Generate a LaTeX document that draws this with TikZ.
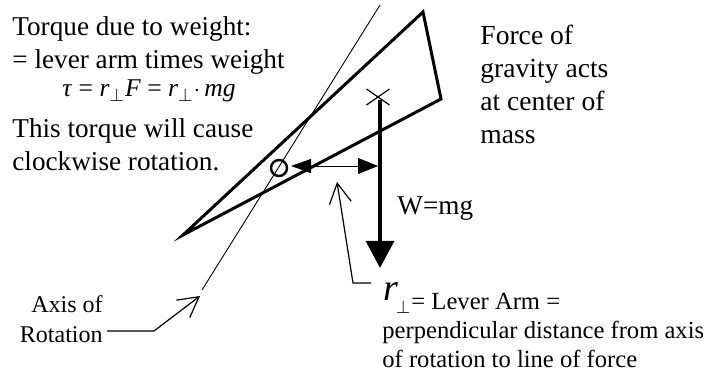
\documentclass[tikz,border=0pt]{standalone}
\usepackage{fontspec}
\setmainfont{Liberation Serif}
\usetikzlibrary{arrows.meta}

\begin{document}
\begin{tikzpicture}[x=0.5pt,y=-0.5pt,
  txt/.style={anchor=base west,inner sep=0pt,font=\fontsize{13.6}{16.5}\selectfont},
  small txt/.style={txt,font=\fontsize{12.3}{14.5}\selectfont},
  bodyline/.style={line width=1.5pt,line join=miter},
  thinline/.style={line width=0.45pt},
  pointer/.style={line width=0.6pt,line join=miter,-{Straight Barb[length=10pt,width=11pt,line width=0.6pt]}}]
  \useasboundingbox (0,0) rectangle (705,373);
  % the body
  \coordinate (top) at (423,12);
  \coordinate (right) at (441,99);
  \coordinate (tip) at (183,235);
  \draw[bodyline] (top) -- (right) -- (tip) -- cycle;
  % axis of rotation
  \coordinate (axtop) at (380,5);
  \coordinate (axbot) at (202,290);
  \draw[thinline] (axtop) -- (axbot);
  \node[draw,circle,line width=1.2pt,minimum size=8pt,inner sep=0pt] (pivot) at (279,168) {};
  % centre of mass and weight
  \coordinate (cm) at (378,97);
  \draw[line width=0.6pt] (cm) ++(-11.5,-8) -- ++(23,16)
    (cm) ++(-11.5,8) -- ++(23,-16);
  \coordinate (wtop) at (380,100);
  \coordinate (wbot) at (380,268);
  \draw[line width=1.6pt,-{Triangle[length=13.5pt,width=14pt]}] (wtop) -- (wbot);
  % lever arm
  \coordinate (armL) at (291,166);
  \coordinate (armR) at (378,166);
  \draw[thinline,{Triangle[length=10pt,width=7pt]}-{Triangle[length=10pt,width=8pt]}] (armL) -- (armR);
  % texts
  \node[txt] (torque) at (12,36) {Torque due to weight:};
  \node[txt] (lever) at (12,69) {= lever arm times weight};
  \node[txt,font=\fontsize{12.8}{14}\selectfont] (formula) at (62,97) {\textit{τ} = \textit{r}$_{\perp}$\textit{F} = \textit{r}$_{\perp}\cdot$\,\textit{mg}};
  \node[txt] (cause) at (12,138) {This torque will cause};
  \node[txt] (clockw) at (12,171) {clockwise rotation.};
  \node[txt,font=\fontsize{13.8}{16.5}\selectfont,align=left] (gravity) at (480,144) {Force of\\gravity acts\\at center of\\mass};
  \node[txt] (wmg) at (397,215) {W=mg};
  \node[small txt,font=\fontsize{12}{14}\selectfont,anchor=base east] (axisof) at (103,312) {Axis of};
  \node[small txt,font=\fontsize{12}{14}\selectfont,anchor=base east] (rotation) at (103,342) {Rotation};
  \node[txt] (rperp) at (383,300) {\fontsize{19}{19}\selectfont\textit{r}};
  \node[small txt] (armtxt) at (rperp.base east) [xshift=-1.5pt,yshift=-4.5pt] {$_{\perp}$= Lever Arm =};
  \node[small txt,align=left] (perpdist) at (382,367) {perpendicular distance from axis\\of rotation to line of force};
  % pointers
  \coordinate (axlbl) at (107,331);
  \coordinate (axbend) at (154,331);
  \coordinate (axtip) at (200,296);
  \draw[pointer] (axlbl) -- (axbend) -- (axtip);
  \coordinate (rlbl) at (371,283);
  \coordinate (rbend) at (353,283);
  \coordinate (rtip) at (337,182);
  \draw[pointer] (rlbl) -- (rbend) -- (rtip);
\end{tikzpicture}
\end{document}
